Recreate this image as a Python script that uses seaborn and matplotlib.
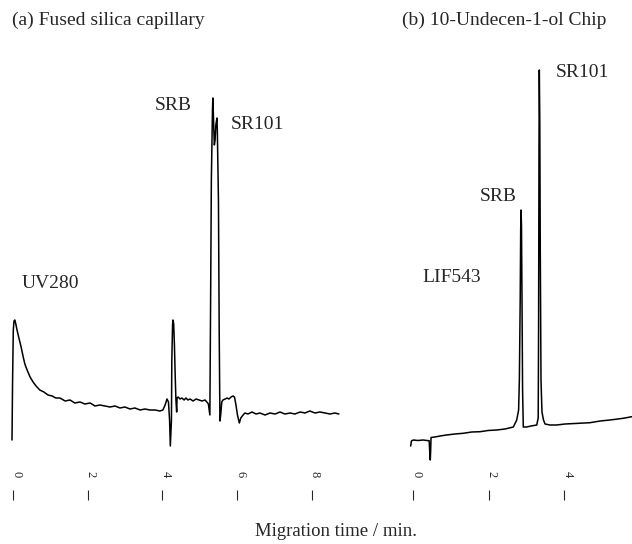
import seaborn as sns
import matplotlib.pyplot as plt
import matplotlib.transforms as mtransforms
import pandas as pd

# (a) fused silica capillary, UV 280 nm trace (time in min, signal in a.u.)
time_a = [-0.035, -0.019, 0.0, 0.019, 0.04, 0.062, 0.10, 0.15, 0.21, 0.26,
          0.31, 0.37, 0.45, 0.53, 0.61, 0.71, 0.82, 0.93, 1.04, 1.14,
          1.25, 1.39, 1.52, 1.65, 1.79, 1.92, 2.06, 2.19, 2.32, 2.46,
          2.59, 2.73, 2.86, 2.99, 3.13, 3.26, 3.40, 3.53, 3.66, 3.80,
          3.93, 4.01, 4.07, 4.12, 4.16, 4.19, 4.21, 4.24, 4.25, 4.27,
          4.28, 4.30, 4.32, 4.34, 4.36, 4.38, 4.39, 4.42, 4.47, 4.52,
          4.58, 4.63, 4.68, 4.74, 4.82, 4.90, 4.98, 5.06, 5.14, 5.19,
          5.23, 5.27, 5.29, 5.31, 5.34, 5.35, 5.36, 5.39, 5.41, 5.43,
          5.46, 5.47, 5.50, 5.52, 5.54, 5.56, 5.59, 5.62, 5.68, 5.73,
          5.78, 5.84, 5.89, 5.93, 5.97, 6.01, 6.06, 6.10, 6.16, 6.21,
          6.29, 6.40, 6.51, 6.61, 6.75, 6.88, 7.02, 7.15, 7.28, 7.42,
          7.55, 7.69, 7.82, 7.95, 8.09, 8.22, 8.36, 8.49, 8.62, 8.73]
signal_a = [20, 80, 130, 139, 140, 137, 130, 122, 113, 104,
            96, 90, 83, 78, 74, 70, 68, 65, 64, 62,
            62, 59, 60, 57, 58, 56, 57, 54, 55, 54,
            53, 54, 52, 53, 51, 52, 50, 51, 50, 50,
            49, 50, 55, 61, 58, 40, 14, 40, 100, 135,
            140, 136, 115, 85, 60, 48, 62, 63, 61, 62,
            60, 62, 60, 61, 59, 61, 60, 59, 60, 58,
            56, 45, 160, 280, 350, 362, 350, 315, 320, 335,
            342, 330, 260, 130, 39, 45, 58, 60, 61, 62,
            61, 63, 64, 63, 55, 45, 37, 42, 45, 47,
            46, 48, 46, 47, 45, 47, 46, 48, 46, 47,
            46, 48, 47, 49, 47, 48, 47, 46, 47, 46]

# (b) 10-undecen-1-ol chip, LIF 543 nm trace
time_b = [-0.07, -0.05, 0.0, 0.12, 0.26, 0.36, 0.42, 0.44, 0.45, 0.46,
          0.47, 0.57, 0.71, 0.88, 1.10, 1.32, 1.55, 1.77, 1.98, 2.21,
          2.43, 2.65, 2.74, 2.79, 2.81, 2.832, 2.845, 2.853, 2.866, 2.880,
          2.895, 2.914, 3.00, 3.12, 3.27, 3.309, 3.319, 3.330, 3.338, 3.351,
          3.364, 3.383, 3.409, 3.449, 3.49, 3.62, 3.80, 4.02, 4.28, 4.68,
          4.95, 5.21, 5.56, 5.79]
signal_b = [14, 19, 20, 19.5, 20, 19.5, 19.3, 5, 0, 10,
            22.5, 23, 24, 25, 26, 26.7, 28, 28.3, 29.5, 30,
            31, 33, 40, 50, 80, 160, 230, 250, 235, 160,
            70, 33, 33, 34, 35, 42, 130, 310, 390, 340,
            210, 80, 48, 40, 36, 35, 35, 36, 36.5, 37.3,
            39, 40, 41.7, 43.3]

ticks_a = [0, 2, 4, 6, 8]
ticks_b = [0, 2, 4]
labels_a = [("UV280", 0.23, 176), ("SRB", 3.80, 354), ("SR101", 5.84, 335)]
labels_b = [("LIF543", 0.23, 182), ("SRB", 1.76, 263), ("SR101", 3.78, 387)]

sns.set_style("white")
plt.rcParams['font.family'] = ['Liberation Serif', 'DejaVu Serif']

fig = plt.figure(figsize=(6.32, 5.44), dpi=100)
ax_a = fig.add_axes([5 / 632, 79 / 544, 340 / 632, 405 / 544])
ax_b = fig.add_axes([405 / 632, 79 / 544, 227 / 632, 405 / 544])

dfa = pd.DataFrame({"t": time_a, "s": signal_a})
dfb = pd.DataFrame({"t": time_b, "s": signal_b})
sns.lineplot(data=dfa, x="t", y="s", ax=ax_a, color="black", lw=1.1,
             sort=False, estimator=None)
sns.lineplot(data=dfb, x="t", y="s", ax=ax_b, color="black", lw=1.1,
             sort=False, estimator=None)

shift = mtransforms.ScaledTranslation(3 / 100, 0, fig.dpi_scale_trans)
for ax, ticks, xlim, labs in [(ax_a, ticks_a, (-0.2225, 8.893), labels_a),
                              (ax_b, ticks_b, (-0.22, 5.794), labels_b)]:
    ax.set_xlim(*xlim)
    ax.set_ylim(-5, 400)
    ax.set_xticks(ticks)
    ax.set_xticklabels([str(t) for t in ticks])
    ax.set_yticks([])
    ax.set_xlabel("")
    ax.set_ylabel("")
    for side in ["top", "right", "left"]:
        ax.spines[side].set_visible(False)
    ax.spines["bottom"].set_position(("outward", 25.2))
    ax.spines["bottom"].set_visible(False)
    ax.tick_params(axis="x", direction="in", length=7.2, width=0.8,
                   pad=-21, labelsize=9, labelrotation=-90, bottom=True)
    for lab in ax.get_xticklabels():
        lab.set_transform(lab.get_transform() + shift)
    ax.patch.set_alpha(0)
    for txt, x, y in labs:
        ax.text(x, y, txt, fontsize=14, ha="left", va="center")

fig.text(12 / 632, 1 - 20 / 544, "(a) Fused silica capillary", fontsize=14,
         ha="left", va="center")
fig.text(402 / 632, 1 - 20 / 544, "(b) 10-Undecen-1-ol Chip", fontsize=14,
         ha="left", va="center")
fig.text(255 / 632, 1 - 532 / 544, "Migration time / min.", fontsize=13.5,
         ha="left", va="center")

fig.savefig("out.png", dpi=100)
